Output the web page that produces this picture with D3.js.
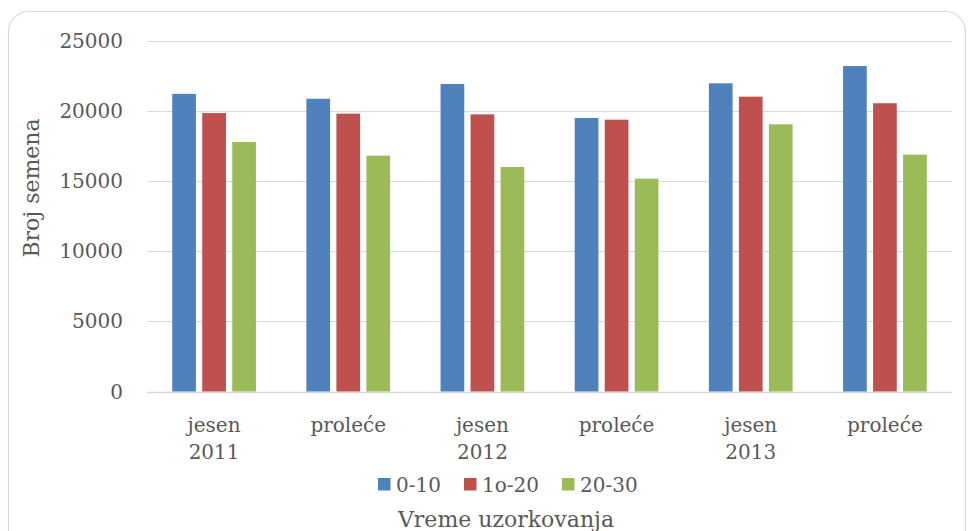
<!DOCTYPE html>
<html><head><meta charset="utf-8">
<script src="https://cdn.jsdelivr.net/npm/d3@7"></script>
<style>body{margin:0;background:#fff}svg{display:block}text{font-family:"DejaVu Serif",serif;fill:#595959}</style>
</head><body><svg id="c" width="970" height="531"></svg>
<script>
const categories = [["jesen","2011"],["proleće"],["jesen","2012"],["proleće"],["jesen","2013"],["proleće"]];
const seriesNames = ["0-10","1o-20","20-30"];
const colors = ["#4F81BD","#C0504D","#9BBB59"];
const s0_10  = [21200, 20850, 21900, 19480, 21950, 23180];
const s10_20 = [19830, 19790, 19740, 19360, 21000, 20530];
const s20_30 = [17770, 16800, 15990, 15160, 19030, 16870];
const yTicks = [0,5000,10000,15000,20000,25000];
const values = [s0_10, s10_20, s20_30];

const svg = d3.select("#c");
const L=147, R=952, T=40.5, B=391.5;
svg.append("rect").attr("x",8.5).attr("y",11.5).attr("width",957).attr("height",560).attr("rx",20)
  .attr("fill","#fff").attr("stroke","#D9D9D9").attr("stroke-width",1.2);

const y = d3.scaleLinear().domain([0,25000]).range([B,T]);
const idx = categories.map((d,i)=>i);
const x0 = d3.scaleBand().domain(idx).range([L,R]).paddingInner(0.376).paddingOuter(0.188);
const x1 = d3.scaleBand().domain(d3.range(3)).range([0,x0.bandwidth()]).paddingInner(0.21);

// grid
svg.append("g").selectAll("line").data(yTicks).join("line")
  .attr("x1",L).attr("x2",R).attr("y1",d=>Math.round(y(d))+0.5).attr("y2",d=>Math.round(y(d))+0.5)
  .attr("stroke","#D9D9D9").attr("stroke-width",d=>d===0?1.5:1.2);
// y labels
svg.append("g").selectAll("text").data(yTicks).join("text")
  .attr("x",123).attr("y",d=>y(d)+7).attr("text-anchor","end").attr("font-size",20).text(d=>d);

// bars
const g = svg.append("g");
idx.forEach(i=>{
  values.forEach((arr,s)=>{
    g.append("rect").attr("x",x0(i)+x1(s)).attr("width",x1.bandwidth())
     .attr("y",y(arr[i])).attr("height",y(0)-y(arr[i])).attr("fill",colors[s]);
  });
});

// x labels
const xl = svg.append("g");
categories.forEach((lines,i)=>{
  const cx = x0(i)+x0.bandwidth()/2;
  const t = xl.append("text").attr("x",cx).attr("y",432).attr("text-anchor","middle").attr("font-size",20);
  lines.forEach((ln,k)=>t.append("tspan").attr("x",cx).attr("dy",k?26.5:0).text(ln));
});

// y title
svg.append("text").attr("transform","translate(39,188) rotate(-90)").attr("text-anchor","middle")
  .attr("font-size",22).text("Broj semena");

// legend
const legX=[378,464,562];
const lg = svg.append("g");
seriesNames.forEach((n,s)=>{
  lg.append("rect").attr("x",legX[s]).attr("y",478).attr("width",12.5).attr("height",12.5).attr("fill",colors[s]);
  lg.append("text").attr("x",legX[s]+18).attr("y",491.5).attr("font-size",20).text(n);
});

// x title
svg.append("text").attr("x",506).attr("y",527).attr("text-anchor","middle").attr("font-size",22).text("Vreme uzorkovanja");
</script></body></html>
